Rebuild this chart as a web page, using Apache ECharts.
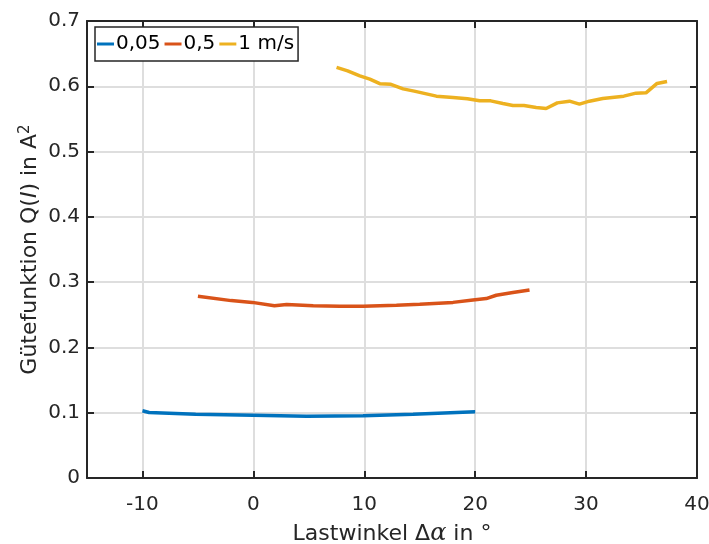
<!DOCTYPE html>
<html><head><meta charset="utf-8">
<script src="https://cdn.jsdelivr.net/npm/echarts@6/dist/echarts.min.js"></script>
<style>html,body{margin:0;padding:0;background:#fff}#c{width:709px;height:544px}</style>
</head><body><div id="c"></div>
<script>
const seriesNames = ['0,05', '0,5', '1 m/s'];
const xTicks = [-10, 0, 10, 20, 30, 40];
const blueX = [-10.0, -9.4, -5.2, 0, 4.8, 9.9, 14.4, 20.0];
const blueY = [0.103, 0.1003, 0.0978, 0.0962, 0.0945, 0.0952, 0.0978, 0.1015];
const redX = [-5.0, -2.0, -0.1, 1.9, 3.0, 5.4, 7.8, 9.9, 11.4, 12.9, 15.0, 18.0, 19.8, 21.0, 21.9, 23.4, 24.9];
const redY = [0.2783, 0.2717, 0.269, 0.264, 0.2656, 0.264, 0.263, 0.263, 0.264, 0.2645, 0.266, 0.269, 0.2728, 0.2748, 0.2799, 0.284, 0.2881];
const yelX = [7.5, 8.5, 9.6, 10.5, 11.4, 12.4, 13.5, 14.5, 16.5, 18.0, 19.3, 20.4, 21.4, 22.5, 23.4, 24.4, 25.5, 26.4, 27.4, 28.5, 29.4, 30.3, 31.5, 33.4, 34.5, 35.4, 36.4, 37.3];
const yelY = [0.629, 0.6237, 0.616, 0.611, 0.604, 0.603, 0.596, 0.5926, 0.5849, 0.583, 0.581, 0.5777, 0.5777, 0.5737, 0.5706, 0.5706, 0.5676, 0.566, 0.5746, 0.5772, 0.5726, 0.5772, 0.5813, 0.5849, 0.5895, 0.59, 0.6044, 0.6074];

const zip = (xs, ys) => xs.map((x, i) => [x, ys[i]]);
const colors = ['#0072BD', '#D95319', '#EDB120'];
const FONT = 'DejaVu Sans, Liberation Sans, sans-serif';
const TXT = '#262626';
const chart = echarts.init(document.getElementById('c'));
const gridColor = '#dedede';
const frameLine = { show: true, onZero: false, lineStyle: { color: TXT, width: 2 } };
const tick = { show: true, inside: true, length: 7, lineStyle: { color: TXT, width: 2 } };
chart.setOption({
  animation: false,
  textStyle: { fontFamily: FONT, color: TXT },
  grid: { left: 87, right: 12, top: 21, bottom: 66, show: false, containLabel: false, outerBoundsMode: 'none' },
  legend: {
    left: 95, top: 27, orient: 'horizontal',
    data: seriesNames,
    icon: 'rect', itemWidth: 17, itemHeight: 3, itemGap: 4,
    borderColor: TXT, borderWidth: 1.5, borderRadius: 0,
    padding: [7, 4, 7, 2], backgroundColor: '#fff',
    textStyle: { fontSize: 20, color: '#000', fontFamily: FONT, padding: [0, 0, 0, -3] }
  },
  xAxis: [{
    type: 'value', min: -15, max: 40, position: 'bottom',
    name: '{n|Lastwinkel Δ}{i|α}{n| in °}', nameLocation: 'middle', nameGap: 44, nameMoveOverlap: false,
    nameTextStyle: { rich: { n: { fontSize: 22, color: TXT, fontFamily: FONT }, i: { fontSize: 24, color: TXT, fontStyle: 'italic', fontFamily: 'DejaVu Serif, serif' } } },
    axisLine: frameLine,
    axisTick: Object.assign({ customValues: xTicks }, tick),
    axisLabel: { customValues: xTicks, fontSize: 20, color: TXT, margin: 17 },
    splitLine: { show: true, lineStyle: { color: gridColor, width: 2 } }
  }, {
    type: 'value', min: -15, max: 40, position: 'top',
    axisLine: frameLine,
    axisTick: Object.assign({ customValues: xTicks }, tick),
    axisLabel: { show: false, customValues: xTicks },
    splitLine: { show: false }
  }],
  yAxis: [{
    type: 'value', min: 0, max: 0.7, interval: 0.1, position: 'left',
    name: '{n|Gütefunktion Q(}{i|I}{n|) in A}{s|2}', nameLocation: 'middle', nameGap: 44, nameRotate: 90, nameMoveOverlap: false,
    nameTextStyle: { rich: {
      n: { fontSize: 22, color: TXT, fontFamily: FONT },
      i: { fontSize: 22, color: TXT, fontStyle: 'italic', fontFamily: FONT },
      s: { fontSize: 15, color: TXT, fontFamily: FONT, verticalAlign: 'top', padding: [0, 0, 10, 0] } } },
    axisLine: frameLine,
    axisTick: tick,
    axisLabel: { fontSize: 20, color: TXT, margin: 7 },
    splitLine: { show: true, lineStyle: { color: gridColor, width: 2 } }
  }, {
    type: 'value', min: 0, max: 0.7, interval: 0.1, position: 'right',
    axisLine: frameLine,
    axisTick: tick,
    axisLabel: { show: false },
    splitLine: { show: false }
  }],
  series: [
    { name: seriesNames[0], type: 'line', data: zip(blueX, blueY), symbol: 'none', lineStyle: { width: 3.5, color: colors[0] }, itemStyle: { color: colors[0] } },
    { name: seriesNames[1], type: 'line', data: zip(redX, redY), symbol: 'none', lineStyle: { width: 3.5, color: colors[1] }, itemStyle: { color: colors[1] } },
    { name: seriesNames[2], type: 'line', data: zip(yelX, yelY), symbol: 'none', lineStyle: { width: 3.5, color: colors[2] }, itemStyle: { color: colors[2] } }
  ]
});
</script></body></html>
